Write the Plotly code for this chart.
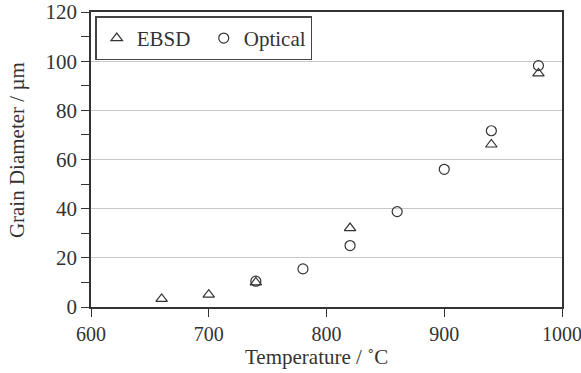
import plotly.graph_objects as go

ebsd_temp = [660, 700, 740, 820, 940, 980]
ebsd_diam = [3.3, 5.0, 10.0, 32.1, 66.1, 95.0]
opt_temp = [740, 780, 820, 860, 900, 940, 980]
opt_diam = [10.5, 15.5, 25.0, 38.8, 56.0, 71.7, 98.2]

x_ticks = [600, 700, 800, 900, 1000]
y_ticks = [0, 20, 40, 60, 80, 100, 120]

x_title = "Temperature / ˚C"
y_title = "Grain Diameter / µm"

FONT = "Liberation Serif"
INK = "#333333"
FS = 21

fig = go.Figure()
fig.add_trace(go.Scatter(
    x=ebsd_temp, y=ebsd_diam, mode="markers", name="EBSD",
    marker=dict(symbol="triangle-up-open", size=10, color=INK, line=dict(width=1.2, color=INK)),
))
fig.add_trace(go.Scatter(
    x=opt_temp, y=opt_diam, mode="markers", name="Optical",
    marker=dict(symbol="circle-open", size=10, color=INK, line=dict(width=1.2, color=INK)),
))

fig.update_layout(
    width=581, height=373,
    margin=dict(l=91, r=19, t=12, b=66, autoexpand=False),
    paper_bgcolor="white", plot_bgcolor="white",
    font=dict(family=FONT, size=FS, color=INK),
    showlegend=True,
    legend=dict(
        orientation="h", x=0.009, y=0.985, xanchor="left", yanchor="top",
        bordercolor="#444444", borderwidth=1.5, bgcolor="white",
        font=dict(family=FONT, size=FS, color=INK),
        itemwidth=30, tracegroupgap=0, entrywidth=62,
    ),
    xaxis=dict(
        range=[600, 1000], tickvals=x_ticks, ticktext=[str(v) for v in x_ticks],
        showgrid=False, zeroline=False, automargin=False,
        showline=True, linecolor=INK, linewidth=1.5, mirror=True,
        ticks="outside", ticklen=8, tickwidth=1.2, tickcolor=INK,
        ticklabeloverflow="allow",
        tickfont=dict(family=FONT, size=20, color=INK),
    ),
    yaxis=dict(
        range=[0, 120], tickvals=y_ticks, ticktext=[str(v) for v in y_ticks],
        showgrid=True, gridcolor="#c8c8c8", gridwidth=1, zeroline=False, automargin=False,
        showline=True, linecolor=INK, linewidth=1.5, mirror=True,
        ticks="outside", ticklen=8, tickwidth=1.2, tickcolor=INK,
        minor=dict(dtick=10, ticks="outside", ticklen=8, tickwidth=1.2, tickcolor=INK, showgrid=False),
        tickfont=dict(family=FONT, size=FS, color=INK),
    ),
    annotations=[
        dict(text=x_title, xref="paper", yref="paper", x=0.478, y=-0.169,
             xanchor="center", yanchor="middle", showarrow=False,
             font=dict(family=FONT, size=FS, color=INK)),
        dict(text=y_title, xref="paper", yref="paper", x=-0.157, y=0.532,
             xanchor="center", yanchor="middle", showarrow=False, textangle=-90,
             font=dict(family=FONT, size=FS, color=INK)),
    ],
)

fig.write_html("out.html")
